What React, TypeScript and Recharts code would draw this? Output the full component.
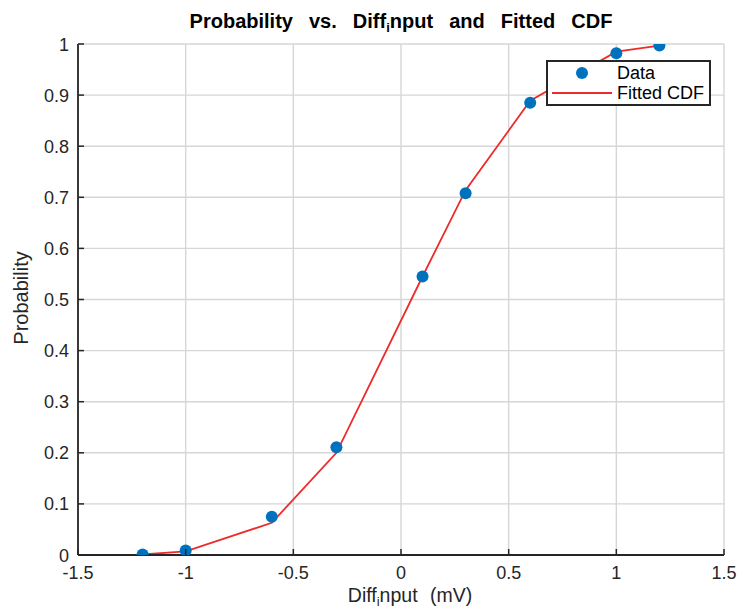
import { ComposedChart, Scatter, Line, XAxis, YAxis, CartesianGrid } from "recharts";

// values
const diffInput = [-1.2, -1.0, -0.6, -0.3, 0.1, 0.3, 0.6, 1.0, 1.2];
const probability = [0.001, 0.009, 0.075, 0.211, 0.545, 0.708, 0.885, 0.982, 0.997];
const fittedCdf = [0.001, 0.007, 0.063, 0.2, 0.545, 0.714, 0.889, 0.985, 0.997];

const xTicks = [-1.5, -1, -0.5, 0, 0.5, 1, 1.5];
const yTicks = [0, 0.1, 0.2, 0.3, 0.4, 0.5, 0.6, 0.7, 0.8, 0.9, 1];

const data = diffInput.map((x, i) => ({ x, prob: probability[i], fit: fittedCdf[i] }));

const FONT = '"Liberation Sans", Arial, Helvetica, sans-serif';
const AXIS = "#262626";
const BLUE = "#0072BD";
const RED = "#ee2a2a";

function XTick(props: any) {
  const { x, y, payload } = props;
  return (
    <g>
      <line x1={x} y1={y} x2={x} y2={y - 6} stroke={AXIS} strokeWidth={1.5} />
      <text x={x} y={y + 24} textAnchor="middle" fontSize={18} fill={AXIS} fontFamily={FONT}>
        {String(payload.value)}
      </text>
    </g>
  );
}

function YTick(props: any) {
  const { x, y, payload } = props;
  return (
    <g>
      <line x1={x} y1={y} x2={x + 6} y2={y} stroke={AXIS} strokeWidth={1.5} />
      <text x={x - 9} y={y + 6.5} textAnchor="end" fontSize={18} fill={AXIS} fontFamily={FONT}>
        {String(payload.value)}
      </text>
    </g>
  );
}

function Overlay() {
  return (
    <svg
      width={749}
      height={613}
      style={{ position: "absolute", left: 0, top: 0, pointerEvents: "none" }}
    >
      <text
        x={401}
        y={28}
        textAnchor="middle"
        fontSize={20}
        fontWeight="bold"
        fill="#000"
        fontFamily={FONT}
        style={{ wordSpacing: 10.5 }}
      >
        Probability vs. Diff
        <tspan fontSize={13} dy={4}>i</tspan>
        <tspan dy={-4}>nput and Fitted CDF</tspan>
      </text>
      <text
        x={410}
        y={602}
        textAnchor="middle"
        fontSize={19.5}
        fill={AXIS}
        fontFamily={FONT}
        style={{ wordSpacing: 7 }}
      >
        Diff
        <tspan fontSize={13} dy={4}>i</tspan>
        <tspan dy={-4}>nput (mV)</tspan>
      </text>
      <text
        x={0}
        y={0}
        transform="translate(28, 298) rotate(-90)"
        textAnchor="middle"
        fontSize={20}
        fill={AXIS}
        fontFamily={FONT}
      >
        Probability
      </text>
      <g>
        <rect x={547} y={61} width={163} height={44} fill="#fff" stroke={AXIS} strokeWidth={2} />
        <circle cx={582} cy={73} r={6} fill={BLUE} />
        <text x={617} y={79} fontSize={18} fill="#000" fontFamily={FONT}>
          Data
        </text>
        <line x1={552} y1={93} x2={612} y2={93} stroke={RED} strokeWidth={1.8} />
        <text x={617} y={99} fontSize={18} fill="#000" fontFamily={FONT}>
          Fitted CDF
        </text>
      </g>
    </svg>
  );
}

export default function App() {
  return (
    <div style={{ position: "absolute", left: 0, top: 0, width: 749, height: 613, background: "#fff" }}>
      <ComposedChart
        width={749}
        height={613}
        data={data}
        margin={{ top: 44, right: 25, left: 0, bottom: 0 }}
      >
        <CartesianGrid stroke="#d6d6d6" strokeWidth={1.4} />
        <XAxis
          dataKey="x"
          type="number"
          domain={[-1.5, 1.5]}
          ticks={xTicks}
          interval={0}
          allowDataOverflow
          height={58}
          tickSize={0}
          tickMargin={0}
          tickLine={false}
          axisLine={{ stroke: AXIS, strokeWidth: 1.8 }}
          tick={<XTick />}
        />
        <YAxis
          type="number"
          domain={[0, 1]}
          ticks={yTicks}
          interval={0}
          allowDataOverflow
          width={78}
          tickSize={0}
          tickMargin={0}
          tickLine={false}
          axisLine={{ stroke: AXIS, strokeWidth: 1.8 }}
          tick={<YTick />}
        />
        <Scatter
          dataKey="prob"
          name="Data"
          fill={BLUE}
          isAnimationActive={false}
          shape={(p: any) => <circle cx={p.cx} cy={p.cy} r={6} fill={BLUE} />}
        />
        <Line
          type="linear"
          dataKey="fit"
          name="Fitted CDF"
          stroke={RED}
          strokeWidth={1.8}
          dot={false}
          activeDot={false}
          isAnimationActive={false}
        />
      </ComposedChart>
      <Overlay />
    </div>
  );
}
